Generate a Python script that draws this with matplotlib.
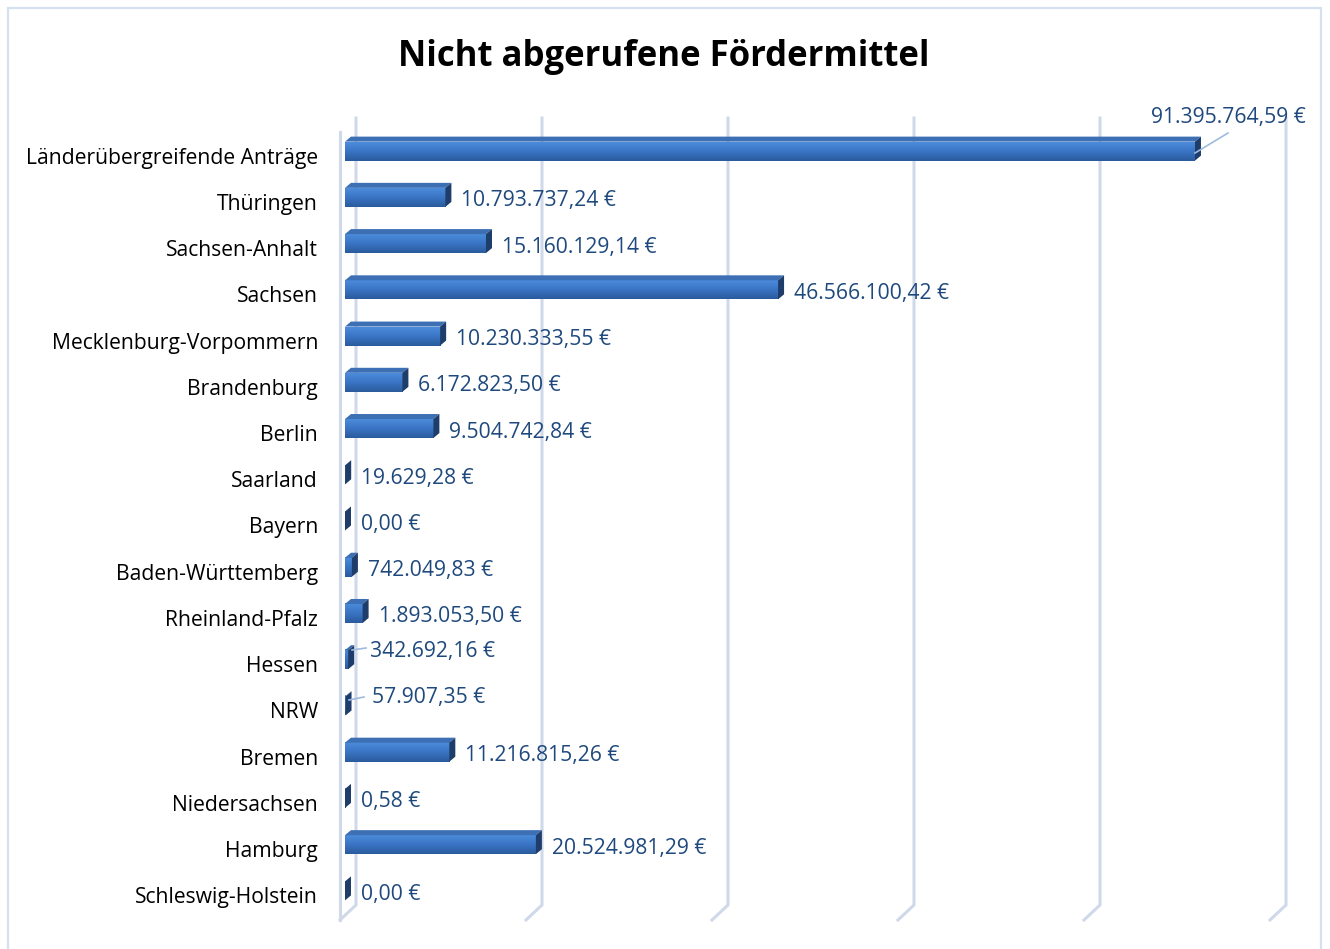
import numpy as np
import matplotlib
matplotlib.use("Agg")
import matplotlib.pyplot as plt
from matplotlib.colors import LinearSegmentedColormap
from matplotlib.patches import Polygon, Rectangle

plt.rcParams['font.family'] = ['Open Sans', 'DejaVu Sans']

categories = ["Länderübergreifende Anträge", "Thüringen", "Sachsen-Anhalt", "Sachsen",
              "Mecklenburg-Vorpommern", "Brandenburg", "Berlin", "Saarland", "Bayern",
              "Baden-Württemberg", "Rheinland-Pfalz", "Hessen", "NRW", "Bremen",
              "Niedersachsen", "Hamburg", "Schleswig-Holstein"]
values = [91395764.59, 10793737.24, 15160129.14, 46566100.42, 10230333.55, 6172823.50,
          9504742.84, 19629.28, 0.00, 742049.83, 1893053.50, 342692.16, 57907.35,
          11216815.26, 0.58, 20524981.29, 0.00]
value_labels = ["91.395.764,59 €", "10.793.737,24 €", "15.160.129,14 €", "46.566.100,42 €",
                "10.230.333,55 €", "6.172.823,50 €", "9.504.742,84 €", "19.629,28 €",
                "0,00 €", "742.049,83 €", "1.893.053,50 €", "342.692,16 €", "57.907,35 €",
                "11.216.815,26 €", "0,58 €", "20.524.981,29 €", "0,00 €"]
grid_ticks = [0, 20e6, 40e6, 60e6, 80e6, 100e6]

W, H = 1330, 949
fig = plt.figure(figsize=(W / 100, H / 100), dpi=100)

# axes placed in pixels: x 0..100M spans 345..1275, rows -0.5..16.5 span 128..914
ax_l, ax_r, ax_t, ax_b = 345, 1275, 128, 914
ax = fig.add_axes([ax_l / W, 1 - ax_b / H, (ax_r - ax_l) / W, (ax_b - ax_t) / H])
n = len(categories)
ax.set_xlim(0, 100e6)
ax.set_ylim(n - 0.5, -0.5)
ax.axis('off')

px_x = 100e6 / (ax_r - ax_l)      # euros per pixel
px_y = n / (ax_b - ax_t)          # rows per pixel

def py(p):
    # pixel row in figure -> data y
    return (p - ax_t) * px_y - 0.5

# walls / gridlines
gcol = '#cfd9ea'
for g in grid_ticks:
    xb = g + 11 * px_x
    xf = g - 5 * px_x
    ax.plot([xb, xb, xf], [py(118), py(905), py(920)], color=gcol, lw=2.2,
            clip_on=False, solid_joinstyle='miter', zorder=1)
ax.plot([-5 * px_x, -5 * px_x], [py(132), py(920)], color=gcol, lw=2.2, clip_on=False, zorder=1)

# bars with a bit of 3d
cmap = LinearSegmentedColormap.from_list('bar', ['#4c8cdb', '#3a74c4', '#2a5b9c'])
grad = np.linspace(0, 1, 64).reshape(-1, 1)
bh = 19 * px_y
ddx, ddy = 6 * px_x, -5 * px_y
for i, v in enumerate(values):
    y0, y1 = i - bh / 2, i + bh / 2
    w = max(v, 0.0)
    if w > 0:
        ax.imshow(grad, cmap=cmap, extent=[0, w, y1, y0], origin='upper',
                  aspect='auto', zorder=3, interpolation='bilinear')
    ax.add_patch(Polygon([(0, y0), (w, y0), (w + ddx, y0 + ddy), (ddx, y0 + ddy)],
                         closed=True, fc='#3c6fb3', ec='none', zorder=3))
    ax.add_patch(Polygon([(w, y0), (w + ddx, y0 + ddy), (w + ddx, y1 + ddy), (w, y1)],
                         closed=True, fc='#1f3d6b', ec='none', zorder=3))

ax.set_xlim(0, 100e6)
ax.set_ylim(n - 0.5, -0.5)

# value labels
tcol = '#1f497d'
fs = 15.2
special = {0: (1228, 117, 'center', [(1195, 153), (1228, 133)]),
           11: (370, 651, 'left', [(352, 650), (366, 648)]),
           12: (372, 698, 'left', [(349, 700), (364, 697)])}
for i, (v, lab) in enumerate(zip(values, value_labels)):
    if i in special:
        tx, ty, ha, line = special[i]
        ax.text((tx - ax_l) * px_x, py(ty), lab, ha=ha, va='center', color=tcol,
                fontsize=fs, clip_on=False, zorder=4)
        ax.plot([(p[0] - ax_l) * px_x for p in line], [py(p[1]) for p in line],
                color='#9dbbe0', lw=1.2, clip_on=False, zorder=4)
    else:
        ax.text(v + ddx + 10 * px_x, i + 3.5 * px_y, lab, ha='left', va='center',
                color=tcol, fontsize=fs, zorder=4)

# category labels
for i, c in enumerate(categories):
    ax.text(-27 * px_x, i + 7 * px_y, c, ha='right', va='center', color='black',
            fontsize=fs, clip_on=False)

fig.text(664 / W, 1 - 57 / H, "Nicht abgerufene Fördermittel", ha='center', va='center',
         fontsize=25, fontweight='bold', color='black')

fig.patches.append(Rectangle((7.5 / W, -0.02), (1321 - 7.5) / W, 1.02 - 8 / H,
                             transform=fig.transFigure, fill=False, ec='#d6e1f0', lw=1.6))

fig.savefig("out.png", dpi=100)
